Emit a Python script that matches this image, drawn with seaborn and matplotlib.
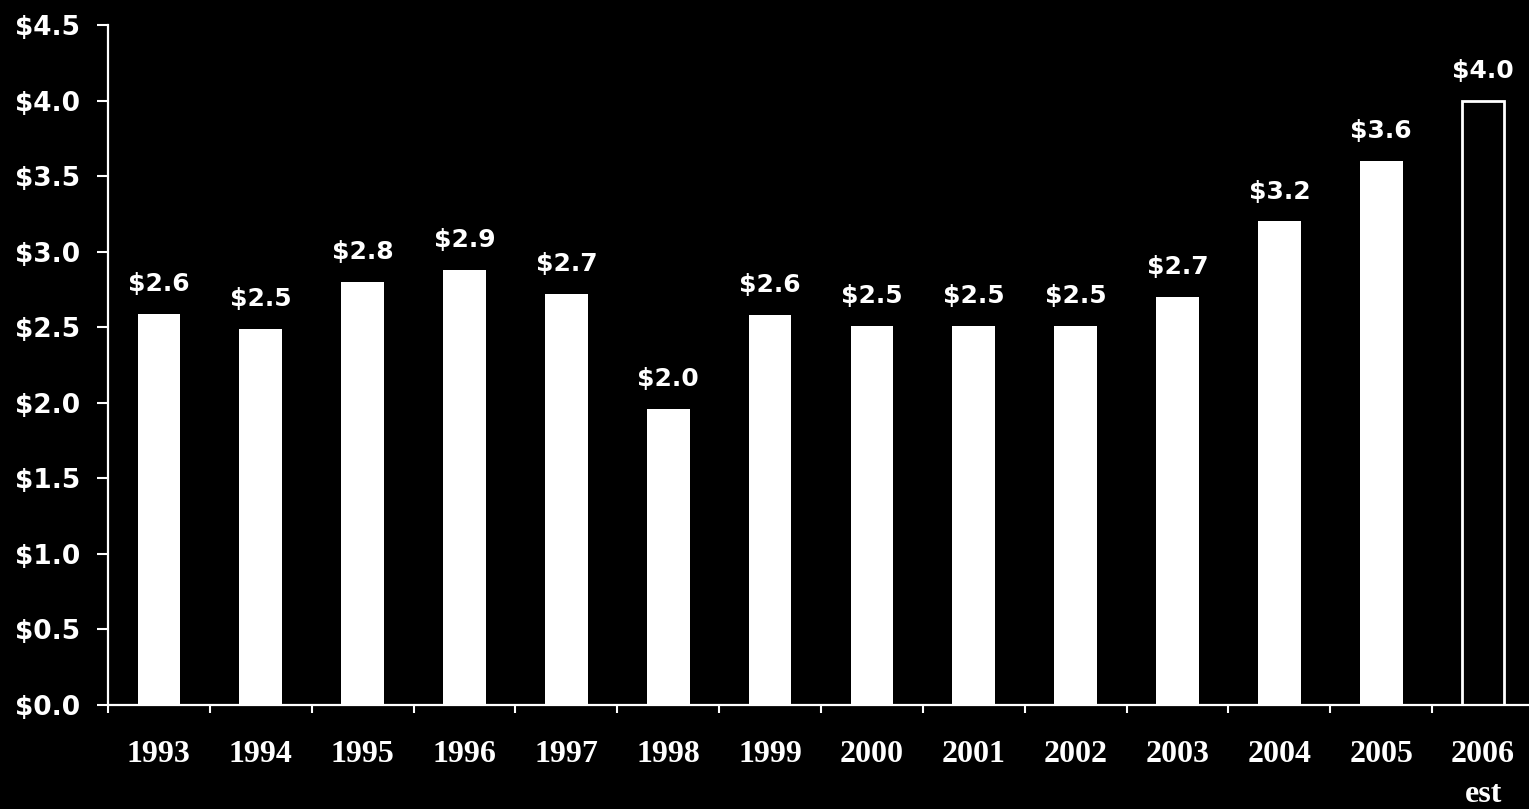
import numpy as np
import pandas as pd
import matplotlib
matplotlib.use("Agg")
import matplotlib.pyplot as plt
import seaborn as sns

# Annual values (in dollars) by year; last year is an estimate
years = ["1993", "1994", "1995", "1996", "1997", "1998", "1999",
         "2000", "2001", "2002", "2003", "2004", "2005", "2006\nest"]
values = [2.59, 2.49, 2.80, 2.88, 2.72, 1.96, 2.58,
          2.51, 2.51, 2.51, 2.70, 3.20, 3.60, 4.00]
y_ticks = [0.0, 0.5, 1.0, 1.5, 2.0, 2.5, 3.0, 3.5, 4.0, 4.5]

df = pd.DataFrame({"year": years, "value": values})

sns.set_theme(style="white")
plt.rcParams["font.family"] = ["DejaVu Sans"]

fig = plt.figure(figsize=(15.29, 8.09), dpi=100, facecolor="black")
ax = fig.add_axes([108 / 1529, 1 - 705 / 809, 1426 / 1529, 680 / 809])
ax.set_facecolor("black")

sns.barplot(data=df, x="year", y="value", color="white", width=0.42,
            saturation=1, ax=ax, edgecolor="white", linewidth=0)

# Estimated year drawn as an outlined bar
est = ax.patches[-1]
est.set_facecolor("black")
est.set_edgecolor("white")
est.set_linewidth(2)

ax.set_xlim(-0.5, len(years) - 0.5)
ax.set_ylim(0, 4.5)

# Value labels above bars
for i, v in enumerate(values):
    ax.annotate(f"${v:.1f}", xy=(i, v), xytext=(0, 21.5), textcoords="offset points",
                ha="center", va="center", color="white", fontsize=18,
                fontweight="bold", family="DejaVu Sans")

# Axes styling
for side in ["top", "right"]:
    ax.spines[side].set_visible(False)
for side in ["left", "bottom"]:
    ax.spines[side].set_color("white")
    ax.spines[side].set_linewidth(1.6)
ax.spines["left"].set_bounds(0, 4.5)

ax.set_yticks(y_ticks)
ax.set_yticklabels([f"${t:.1f}" for t in y_ticks], color="white",
                   fontsize=19, fontweight="bold", family="DejaVu Sans")
ax.tick_params(axis="y", which="major", direction="out", length=8, width=1.5,
               color="white", pad=12, left=True)

ax.set_xticks(range(len(years)))
ax.set_xticklabels(years, color="white", fontsize=23, fontweight="bold",
                   family="Liberation Serif", linespacing=1.5)
ax.tick_params(axis="x", which="major", length=0, pad=25, bottom=True)
ax.set_xticks(np.arange(-0.5, len(years), 1.0), minor=True)
ax.tick_params(axis="x", which="minor", direction="out", length=6, width=1.5,
               color="white", bottom=True)

ax.set_xlabel("")
ax.set_ylabel("")
ax.grid(False)

fig.savefig("out.png", dpi=100, facecolor="black")
